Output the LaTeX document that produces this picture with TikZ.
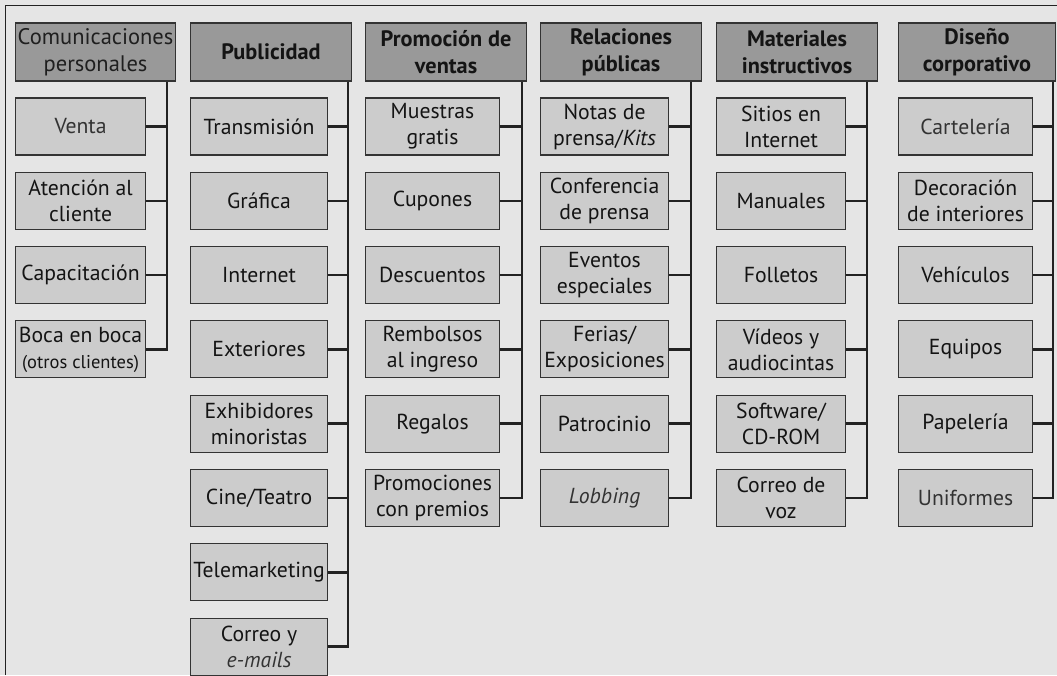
\documentclass[tikz,border=0pt]{standalone}
\usepackage{fontspec}
\setmainfont{PT Sans}
\definecolor{bgc}{HTML}{E5E5E5}
\definecolor{headfill}{HTML}{999999}
\definecolor{kidfill}{HTML}{CCCCCC}
\definecolor{linec}{HTML}{333333}
\definecolor{conc}{HTML}{222222}
\definecolor{txtg}{HTML}{333333}
\begin{document}
\begin{tikzpicture}[x=1pt,y=-1pt,
  head/.style={draw=linec, line width=1.1pt, fill=headfill, minimum height=58pt, anchor=west, align=center, inner sep=0pt, text=black!92, font=\bfseries\fontsize{22.3}{27}\selectfont},
  kid/.style={draw=linec, line width=1.1pt, fill=kidfill, minimum height=57pt, anchor=west, align=center, inner sep=0pt, text=black!92, font=\fontsize{21.7}{26}\selectfont},
  grey/.style={text=txtg},
  link/.style={line width=2.5pt, draw=conc, line join=miter},
  frame/.style={line width=1.5pt, draw=conc}]
\fill[bgc] (0,0) rectangle (1057,675);
\useasboundingbox (0,0) rectangle (1057,675);
\draw[frame] (5.5,675) -- (5.5,5.5) -- (1057,5.5);
% headers
\node[head, minimum width=160pt, text=black!88, font=\fontsize{22.5}{27}\selectfont] (h1) at (15,52) {Comunicaciones\\personales};
\node[head, minimum width=161pt] (h2) at (190,52) {Publicidad};
\node[head, minimum width=161pt] (h3) at (365,52) {Promoción de\\ventas};
\node[head, minimum width=161pt] (h4) at (540,52) {Relaciones\\públicas};
\node[head, minimum width=161pt] (h5) at (716,52) {Materiales\\instructivos};
\node[head, minimum width=157pt] (h6) at (898,52) {Diseño\\corporativo};
% column 1
\node[kid, minimum width=130pt, grey] (a1) at (15,126.5) {Venta};
\node[kid, minimum width=130pt] (a2) at (15,200.8) {Atención al\\cliente};
\node[kid, minimum width=130pt] (a3) at (15,275.1) {Capacitación};
\node[kid, minimum width=130pt] (a4) at (15,349.4) {Boca en boca\\{\fontsize{18.5}{22}\selectfont(otros clientes)}};
% column 2
\node[kid, minimum width=137pt] (b1) at (190,126.5) {Transmisión};
\node[kid, minimum width=137pt] (b2) at (190,200.8) {Gráfica};
\node[kid, minimum width=137pt] (b3) at (190,275.1) {Internet};
\node[kid, minimum width=137pt] (b4) at (190,349.4) {Exteriores};
\node[kid, minimum width=137pt] (b5) at (190,423.7) {Exhibidores\\minoristas};
\node[kid, minimum width=137pt] (b6) at (190,498) {Cine/Teatro};
\node[kid, minimum width=137pt] (b7) at (190,572.3) {Telemarketing};
\node[kid, minimum width=137pt] (b8) at (190,646.6) {Correo y\\{\color{txtg}\itshape e-mails}};
% column 3
\node[kid, minimum width=134pt] (c1) at (365,126.5) {Muestras\\gratis};
\node[kid, minimum width=134pt] (c2) at (365,200.8) {Cupones};
\node[kid, minimum width=134pt] (c3) at (365,275.1) {Descuentos};
\node[kid, minimum width=134pt] (c4) at (365,349.4) {Rembolsos\\al ingreso};
\node[kid, minimum width=134pt] (c5) at (365,423.7) {Regalos};
\node[kid, minimum width=134pt] (c6) at (365,498) {Promociones\\con premios};
% column 4
\node[kid, minimum width=128pt] (d1) at (540,126.5) {Notas de\\prensa/\textit{Kits}};
\node[kid, minimum width=128pt] (d2) at (540,200.8) {Conferencia\\de prensa};
\node[kid, minimum width=128pt] (d3) at (540,275.1) {Eventos\\especiales};
\node[kid, minimum width=128pt] (d4) at (540,349.4) {Ferias/\\Exposiciones};
\node[kid, minimum width=128pt] (d5) at (540,423.7) {Patrocinio};
\node[kid, minimum width=128pt, grey] (d6) at (540,498) {\itshape Lobbing};
% column 5
\node[kid, minimum width=129pt] (e1) at (716,126.5) {Sitios en\\Internet};
\node[kid, minimum width=129pt] (e2) at (716,200.8) {Manuales};
\node[kid, minimum width=129pt] (e3) at (716,275.1) {Folletos};
\node[kid, minimum width=129pt] (e4) at (716,349.4) {Vídeos y\\audiocintas};
\node[kid, minimum width=129pt] (e5) at (716,423.7) {Software/\\CD-ROM};
\node[kid, minimum width=129pt] (e6) at (716,498) {Correo de\\voz};
% column 6
\node[kid, minimum width=134pt, grey] (f1) at (898,126.5) {Cartelería};
\node[kid, minimum width=134pt] (f2) at (898,200.8) {Decoración\\de interiores};
\node[kid, minimum width=134pt] (f3) at (898,275.1) {Vehículos};
\node[kid, minimum width=134pt] (f4) at (898,349.4) {Equipos};
\node[kid, minimum width=134pt] (f5) at (898,423.7) {Papelería};
\node[kid, minimum width=134pt, grey] (f6) at (898,498) {Uniformes};
% trunk tops
\path (h1.south east) ++(-9,0) coordinate (t1);
\path (h2.south east) ++(-4,0) coordinate (t2);
\path (h3.south east) ++(-5,0) coordinate (t3);
\path (h4.south east) ++(-11,0) coordinate (t4);
\path (h5.south east) ++(-11,0) coordinate (t5);
\path (h6.south east) ++(-3,0) coordinate (t6);
% connectors
\draw[link] (t1) -- (t1 |- a4.east) -- (a4.east);
\foreach \k in {a1,a2,a3} \draw[link] (\k.east) -- (\k.east -| t1);
\draw[link] (t2) -- (t2 |- b8.east) -- (b8.east);
\foreach \k in {b1,b2,b3,b4,b5,b6,b7} \draw[link] (\k.east) -- (\k.east -| t2);
\draw[link] (t3) -- (t3 |- c6.east) -- (c6.east);
\foreach \k in {c1,c2,c3,c4,c5} \draw[link] (\k.east) -- (\k.east -| t3);
\draw[link] (t4) -- (t4 |- d6.east) -- (d6.east);
\foreach \k in {d1,d2,d3,d4,d5} \draw[link] (\k.east) -- (\k.east -| t4);
\draw[link] (t5) -- (t5 |- e6.east) -- (e6.east);
\foreach \k in {e1,e2,e3,e4,e5} \draw[link] (\k.east) -- (\k.east -| t5);
\draw[link] (t6) -- (t6 |- f6.east) -- (f6.east);
\foreach \k in {f1,f2,f3,f4,f5} \draw[link] (\k.east) -- (\k.east -| t6);
\end{tikzpicture}
\end{document}
